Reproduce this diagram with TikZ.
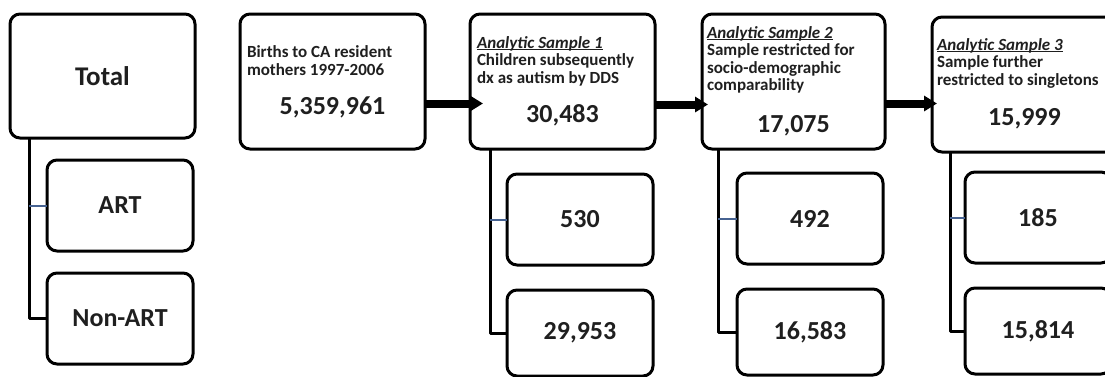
\documentclass[tikz,border=0pt]{standalone}
\usepackage{fontspec}
\setmainfont{Carlito}
\usetikzlibrary{positioning, arrows.meta}
\newsavebox{\headbox}
\newcommand{\ulhead}[1]{\sbox{\headbox}{#1}\rlap{\rule[-1.6pt]{\wd\headbox}{0.9pt}}\usebox{\headbox}}

\begin{document}
\begin{tikzpicture}[x=1pt,y=-1pt,text=black!88,line join=round]
		\tikzstyle{every node}=[inner sep=0pt, outer sep=0pt]
		\tikzstyle{stagebox}=[draw, line width=3pt, rounded corners=10pt, anchor=north west, minimum width=185pt, minimum height=135pt]
		\tikzstyle{subbox}=[draw, line width=3pt, rounded corners=10pt, minimum width=146pt, minimum height=91pt, font=\fontsize{26}{30}\selectfont\bfseries]
		\tikzstyle{head}=[align=left, font=\fontsize{17}{17.5}\selectfont\bfseries]
		\tikzstyle{count}=[text depth=0pt, font=\fontsize{26}{30}\selectfont\bfseries]
		\tikzstyle{tree}=[line width=3pt]
		\tikzstyle{artline}=[line width=2pt, draw=artblue]
		\tikzstyle{flow}=[line width=8pt, -{Triangle[length=13pt,width=15pt]}]
		\definecolor{artblue}{RGB}{70,98,145}
		
		\useasboundingbox[fill=white] (0,0) rectangle (1105,376);
		
		\node[stagebox, minimum height=124pt, font=\fontsize{27}{30}\selectfont\bfseries] (total) at (10,14) {Total};
		\node[subbox] (art) [below right=22pt and 37pt of total.south west] {ART};
		\node[subbox] (nonart) [below=22pt of art] {Non-ART};
		
		\node[stagebox] (births) [below right=0pt and 45pt of total.north east] {};
		\node[stagebox] (s1) [below right=0pt and 45pt of births.north east] {};
		\node[stagebox, minimum width=183pt] (s2) [below right=0pt and 47pt of s1.north east] {};
		\node[stagebox] (s3) [below right=3pt and 47pt of s2.north east] {};
		
		\node[head] (births_h) [below right=32pt and 7pt of births.north west] {Births to CA resident\\mothers 1997-2006};
		\node[head] (s1_h) [below right=22.5pt and 7pt of s1.north west] {\ulhead{\textit{Analytic Sample 1}}\\Children subsequently\\dx as autism by DDS};
		\node[head] (s2_h) [below right=12.5pt and 5pt of s2.north west] {\ulhead{\textit{Analytic Sample 2}}\\Sample restricted for\\socio-demographic\\comparability};
		\node[head] (s3_h) [below right=21.5pt and 5pt of s3.north west] {\ulhead{\textit{Analytic Sample 3}}\\Sample further\\restricted to singletons};
		
		\node[count] (births_n) at ([yshift=-24.5pt]births.center) {5,359,961};
		\node[count] (s1_n) at ([yshift=-32pt]s1.center) {30,483};
		\node[count] (s2_n) at ([yshift=-42pt]s2.center) {17,075};
		\node[count] (s3_n) at ([yshift=-32pt]s3.center) {15,999};
		
		\node[subbox] (s1_art) [below right=25pt and 37pt of s1.south west] {530};
		\node[subbox, minimum height=86pt] (s1_non) [below=25pt of s1_art] {29,953};
		\node[subbox] (s2_art) [below right=24pt and 35pt of s2.south west] {492};
		\node[subbox, minimum height=86pt] (s2_non) [below=25pt of s2_art] {16,583};
		\node[subbox] (s3_art) [below right=20pt and 33pt of s3.south west] {185};
		\node[subbox, minimum height=86pt] (s3_non) [below=25pt of s3_art] {15,814};
		
		% group trees
		\draw[tree] ([xshift=-18pt]art.west |- total.south) |- (nonart.west);
		\draw[artline] ([xshift=-18pt]art.west) -- (art.west);
		\draw[tree] ([xshift=-17pt]s1_art.west |- s1.south) |- (s1_non.west);
		\draw[artline] ([xshift=-17pt]s1_art.west) -- (s1_art.west);
		\draw[tree] ([xshift=-19pt]s2_art.west |- s2.south) |- (s2_non.west);
		\draw[artline] ([xshift=-19pt]s2_art.west) -- (s2_art.west);
		\draw[tree] ([xshift=-15pt]s3_art.west |- s3.south) |- (s3_non.west);
		\draw[artline] ([xshift=-15pt]s3_art.west) -- (s3_art.west);
		
		% flow
		\coordinate (a1) at ([yshift=-22pt]births.east);
		\coordinate (a2) at ([yshift=-23pt]s1.east);
		\coordinate (a3) at ([yshift=-22pt]s2.east);
		\draw[flow] (a1) -- ([xshift=13pt]a1 -| s1.west);
		\draw[flow] (a2) -- ([xshift=6pt]a2 -| s2.west);
		\draw[flow] (a3) -- ([xshift=5pt]a3 -| s3.west);
		
	\end{tikzpicture}
\end{document}
